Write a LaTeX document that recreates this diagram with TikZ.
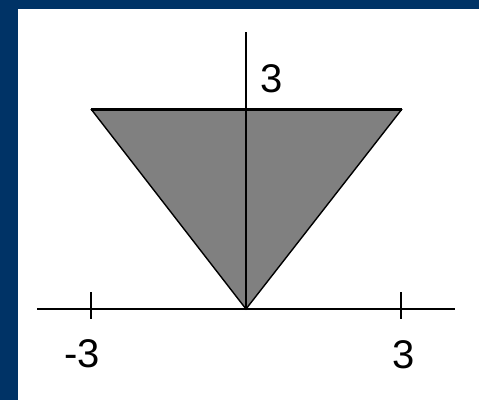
\documentclass[tikz,border=0pt]{standalone}
\usepackage{fontspec}
\setmainfont{Liberation Sans}
\definecolor{frameblue}{RGB}{0,51,102}
\definecolor{fillgray}{RGB}{128,128,128}
\tikzset{
  axisline/.style={line width=2.6pt},
  edge/.style={line width=1.4pt},
  topedge/.style={line width=3pt},
  ticklbl/.style={font=\fontsize{40}{46}\selectfont, inner sep=0pt, anchor=center}
}
\begin{document}
\begin{tikzpicture}[x=1pt,y=-1pt]
\useasboundingbox (0,0) rectangle (479,400);
\fill[white] (0,0) rectangle (479,400);
\fill[frameblue] (0,0) rectangle (479,9);
\fill[frameblue] (0,0) rectangle (18,400);
% points
\coordinate (O) at (246,309);
\coordinate (TL) at (91,109);
\coordinate (TR) at (402,109);
\coordinate (XL) at (37,309);
\coordinate (XR) at (455,309);
\coordinate (YT) at (246,32);
% triangle
\fill[fillgray] (TL) -- (TR) -- (O) -- cycle;
\draw[edge] (TL) -- (O) -- (TR);
\draw[topedge] (TL) -- (TR);
% axes
\draw[axisline] (XL) -- (XR);
\draw[axisline] (YT) -- (O);
% ticks
\draw[axisline] (91,292) -- (91,319);
\draw[axisline] (401,292) -- (401,319);
% labels
\node[ticklbl] (lm3) at (82,354) {-3};
\node[ticklbl] (lp3) at (404,355) {3};
\node[ticklbl] (ly3) at (272,79) {3};
\end{tikzpicture}
\end{document}
